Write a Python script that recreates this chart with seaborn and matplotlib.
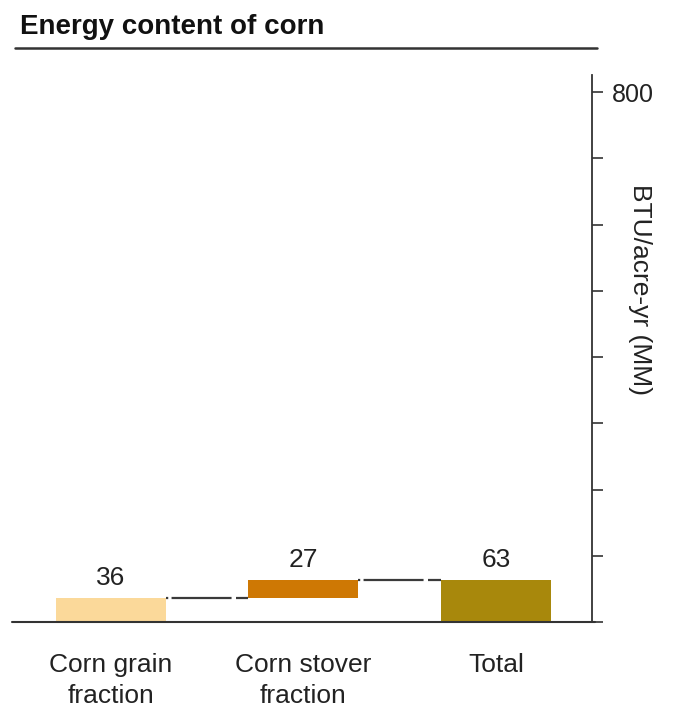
import numpy as np
import pandas as pd
import matplotlib
matplotlib.use("Agg")
import matplotlib.pyplot as plt
from matplotlib.lines import Line2D
import seaborn as sns

# data
categories = ["Corn grain\nfraction", "Corn stover\nfraction", "Total"]
values = [36, 27, 63]
bar_start = [0, 36, 0]
bar_end = [36, 63, 63]
bar_colors = ["#FBD99A", "#CE7804", "#A8880C"]
y_ticks = [0, 100, 200, 300, 400, 500, 600, 700, 800]
y_ticklabels = ["", "", "", "", "", "", "", "", "800"]

sns.set_theme(style="white")
plt.rcParams["font.family"] = ["Liberation Sans", "DejaVu Sans"]

df = pd.DataFrame({"category": categories, "start": bar_start, "end": bar_end, "value": values})

fig = plt.figure(figsize=(6.76, 7.13), dpi=100)
ax = fig.add_axes([0.018, 0.1276, 0.858, 0.7672])

width = 0.57
sns.barplot(data=df, x="category", y="end", hue="category", palette=bar_colors,
            width=width, linewidth=0, saturation=1, legend=False, ax=ax)
# white base hides the lower part of the floating bar
sns.barplot(data=df, x="category", y="start", color="white",
            width=width, linewidth=0, saturation=1, ax=ax)

# connectors between bars
for i in range(len(categories) - 1):
    ax.plot([i + width / 2, i + 1 - width / 2], [bar_end[i], bar_end[i]],
            color="#3a3a3a", lw=1.6, linestyle=(0, (1, 1.5, 27, 2, 12, 0.5)),
            solid_capstyle="butt")

# value labels
for i, (v, top) in enumerate(zip(values, bar_end)):
    ax.text(i, top + 13, str(v), ha="center", va="bottom", fontsize=19, color="#222222")

ax.set_xlim(-0.51, 2.497)
ax.set_ylim(0, 826)
ax.yaxis.tick_right()
ax.set_yticks(y_ticks)
ax.set_yticklabels(y_ticklabels, fontsize=18, color="#222222")
ax.tick_params(axis="y", direction="out", length=8, width=1.2, color="#333333", pad=6, right=True)
ax.tick_params(axis="x", length=0, pad=22, labelsize=19, labelcolor="#222222")
for lbl in ax.get_xticklabels():
    lbl.set_linespacing(1.4)
ax.set_xlabel("")
ax.set_ylabel("")

for s in ["top", "left"]:
    ax.spines[s].set_visible(False)
ax.spines["right"].set_color("#333333")
ax.spines["right"].set_linewidth(1.3)
ax.spines["bottom"].set_visible(False)
ax.plot([-0.51, 2.51], [0, 0], color="#333333", lw=1.5, clip_on=False)

# y axis label
fig.text(640 / 676, 1 - 290 / 713, "BTU/acre-yr (MM)", rotation=270,
         ha="center", va="center", fontsize=19, color="#222222")

# title and rule
fig.text(20 / 676, 1 - 34 / 713, "Energy content of corn", fontsize=20,
         fontweight="bold", ha="left", va="baseline", color="#111111")
fig.add_artist(Line2D([15 / 676, 597 / 676], [1 - 48 / 713, 1 - 48 / 713],
                      color="#333333", lw=1.8, transform=fig.transFigure))

plt.savefig("out.png", dpi=100)
